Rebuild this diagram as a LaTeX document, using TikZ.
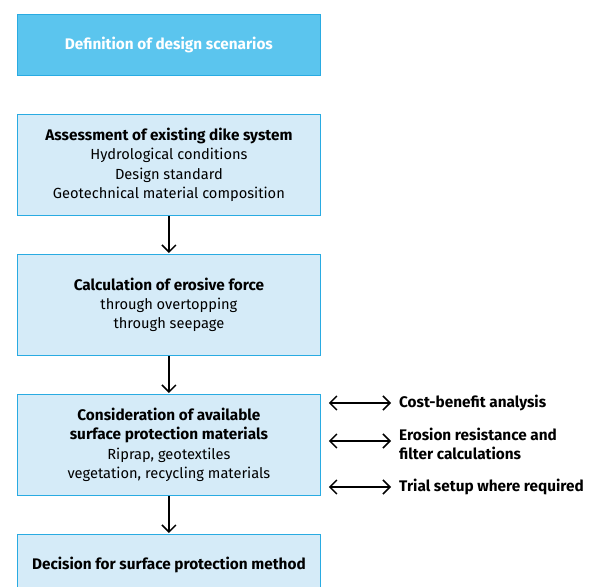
\documentclass[tikz,border=0pt]{standalone}
\usepackage{fontspec}
\setmainfont{Fira Sans}
\usetikzlibrary{positioning,arrows.meta}
\definecolor{headblue}{HTML}{5BC5EE}
\definecolor{boxblue}{HTML}{D5EBF8}
\definecolor{edgeblue}{HTML}{29ABE2}
\newcommand{\boldtxt}{\fontsize{15.4}{19.5}\selectfont\bfseries}
\newcommand{\hd}[1]{{\boldtxt #1}}

\begin{document}
\begin{tikzpicture}
[ x=1bp, y=-1bp, node distance=38.2bp,
head/.style={rectangle, draw=edgeblue, fill=headblue, line width=0.8bp,
 text=white, font=\boldtxt,
 minimum width=303bp, minimum height=61bp, align=center},
block/.style ={rectangle, draw=edgeblue, fill=boxblue, line width=0.8bp,
 font=\fontsize{14.7}{19.5}\selectfont,
 minimum width=303bp, minimum height=101bp, align=center},
side/.style={font=\boldtxt,
 anchor=west, align=left, inner sep=0pt},
flow/.style={-{Straight Barb[length=7bp,width=14bp]}, line width=1.5bp,
 shorten >=1bp},
link/.style={{Straight Barb[length=7bp,width=14bp]}-{Straight Barb[length=7bp,width=14bp]},
 line width=1.5bp, shorten <=8bp, shorten >=8bp},
]
\clip (0,0) rectangle (596,587);

% boxes
\node (scen) [head, anchor=north west] at (17,14) {Definition of design scenarios};
\node (assess) [block, below=of scen] {\hd{Assessment of existing dike system}\\
 Hydrological conditions\\ Design standard\\ Geotechnical material composition};
\node (force) [block, below=of assess] {\hd{Calculation of erosive force}\\
 through overtopping\\ through seepage};
\node (consid) [block, below=of force] {\hd{Consideration of available}\\
 \hd{surface protection materials}\\ Riprap, geotextiles\\ vegetation, recycling materials};
\node (decide) [head, text=black, fill=boxblue, below=of consid] {Decision for surface protection method};

% side notes
\node (cost) [side] at (399,403) {Cost-benefit analysis};
\node (erosion) [side] at (399,444) {Erosion resistance and\\ filter calculations};
\node (trial) [side] at (399,487) {Trial setup where required};

\draw[flow] (assess) -- (force);
\draw[flow] (force) -- (consid);
\draw[flow] (consid) -- (decide);
\draw[link] (consid.east |- cost.west) -- (cost.west);
\draw[link] (consid.east |- 0,441) -- (erosion.west |- 0,441);
\draw[link] (consid.east |- trial.west) -- (trial.west);
\end{tikzpicture}
\end{document}
